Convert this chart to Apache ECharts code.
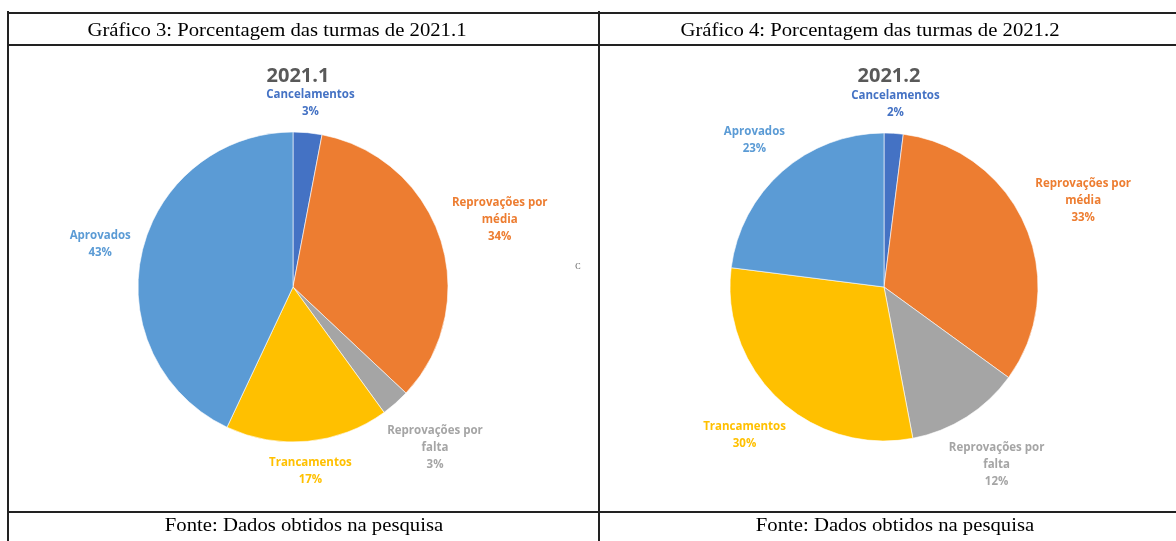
<!DOCTYPE html>
<html>
<head>
<meta charset="utf-8">
<script src="https://cdn.jsdelivr.net/npm/echarts@6/dist/echarts.min.js"></script>
<style>
  html, body { margin: 0; padding: 0; background: #fff; }
  #chart { width: 1176px; height: 541px; }
</style>
</head>
<body>
<div id="chart"></div>
<script>
// categorias (ordem horária a partir do topo)
const categories = ['Cancelamentos', 'Reprovações por\nmédia', 'Reprovações por\nfalta', 'Trancamentos', 'Aprovados']
// porcentagens 2021.1
const values2021_1 = [3, 34, 3, 17, 43]
// porcentagens 2021.2
const values2021_2 = [2, 33, 12, 30, 23]
const colors = ['#4472C4', '#ED7D31', '#A5A5A5', '#FFC000', '#5B9BD5']

const pie1 = { cx: 293, cy: 287, r: 155 }
const pie2 = { cx: 884, cy: 287, r: 154 }

const chart = echarts.init(document.getElementById('chart'), null, { renderer: 'canvas' })

// rótulo centrado fora da fatia, como no Excel
function labelPlacer(values, p, gap) {
  const total = values.reduce((a, b) => a + b, 0)
  return function (params) {
    const i = params.dataIndex
    let acc = 0
    for (let k = 0; k < i; k++) acc += values[k]
    const mid = (acc + values[i] / 2) / total * Math.PI * 2
    const dx = Math.sin(mid)
    const dy = -Math.cos(mid)
    const w = params.labelRect.width
    const h = params.labelRect.height
    const ext = Math.abs(dx) * w / 2 + Math.abs(dy) * h / 2
    const d = p.r + gap + ext
    return {
      x: p.cx + dx * d,
      y: p.cy + dy * d,
      align: 'center',
      verticalAlign: 'middle'
    }
  }
}

function pieSeries(values, p) {
  return {
    type: 'pie',
    center: [p.cx, p.cy],
    radius: p.r,
    startAngle: 90,
    clockwise: true,
    animation: false,
    silent: true,
    avoidLabelOverlap: false,
    itemStyle: { borderColor: '#fff', borderWidth: 0.6 },
    label: {
      show: true,
      position: 'outside',
      formatter: '{b}\n{d}%',
      fontFamily: 'Open Sans',
      fontSize: 11.5,
      fontWeight: 'bold',
      lineHeight: 17,
      align: 'center',
      overflow: 'none'
    },
    labelLine: { show: false },
    labelLayout: labelPlacer(values, p, 9),
    data: categories.map((name, i) => ({
      name,
      value: values[i],
      itemStyle: { color: colors[i] },
      label: { color: colors[i] }
    }))
  }
}

const lineStyle = { stroke: '#222', lineWidth: 2 }
const serif = 'Liberation Serif'

function cellText(x, y, text, size, sx) {
  return {
    type: 'text', x, y, scaleX: sx,
    style: { text, font: size + 'px ' + serif, fill: '#000', align: 'center', verticalAlign: 'middle' }
  }
}

chart.setOption({
  title: [
    {
      text: '2021.1', left: pie1.cx, top: 61, textAlign: 'center',
      textStyle: { fontFamily: 'Open Sans', fontSize: 20, fontWeight: 'bold', color: '#595959' }
    },
    {
      text: '2021.2', left: pie2.cx, top: 61, textAlign: 'center',
      textStyle: { fontFamily: 'Open Sans', fontSize: 20, fontWeight: 'bold', color: '#595959' }
    }
  ],
  series: [pieSeries(values2021_1, pie1), pieSeries(values2021_2, pie2)],
  graphic: [
    { type: 'line', shape: { x1: 8, y1: 13, x2: 1176, y2: 13 }, style: lineStyle },
    { type: 'line', shape: { x1: 8, y1: 45, x2: 1176, y2: 45 }, style: lineStyle },
    { type: 'line', shape: { x1: 8, y1: 512, x2: 1176, y2: 512 }, style: lineStyle },
    { type: 'line', shape: { x1: 8, y1: 11, x2: 8, y2: 541 }, style: lineStyle },
    { type: 'line', shape: { x1: 599, y1: 11, x2: 599, y2: 541 }, style: lineStyle },
    cellText(277, 31, 'Gráfico 3: Porcentagem das turmas de 2021.1', 19, 1.09),
    cellText(870, 31, 'Gráfico 4: Porcentagem das turmas de 2021.2', 19, 1.09),
    cellText(304, 526, 'Fonte: Dados obtidos na pesquisa', 18, 1.15),
    cellText(895, 526, 'Fonte: Dados obtidos na pesquisa', 18, 1.15),
    {
      type: 'text', x: 578, y: 267,
      style: { text: 'C', font: '8px ' + serif, fill: '#555', align: 'center', verticalAlign: 'middle' }
    }
  ]
})
</script>
</body>
</html>
